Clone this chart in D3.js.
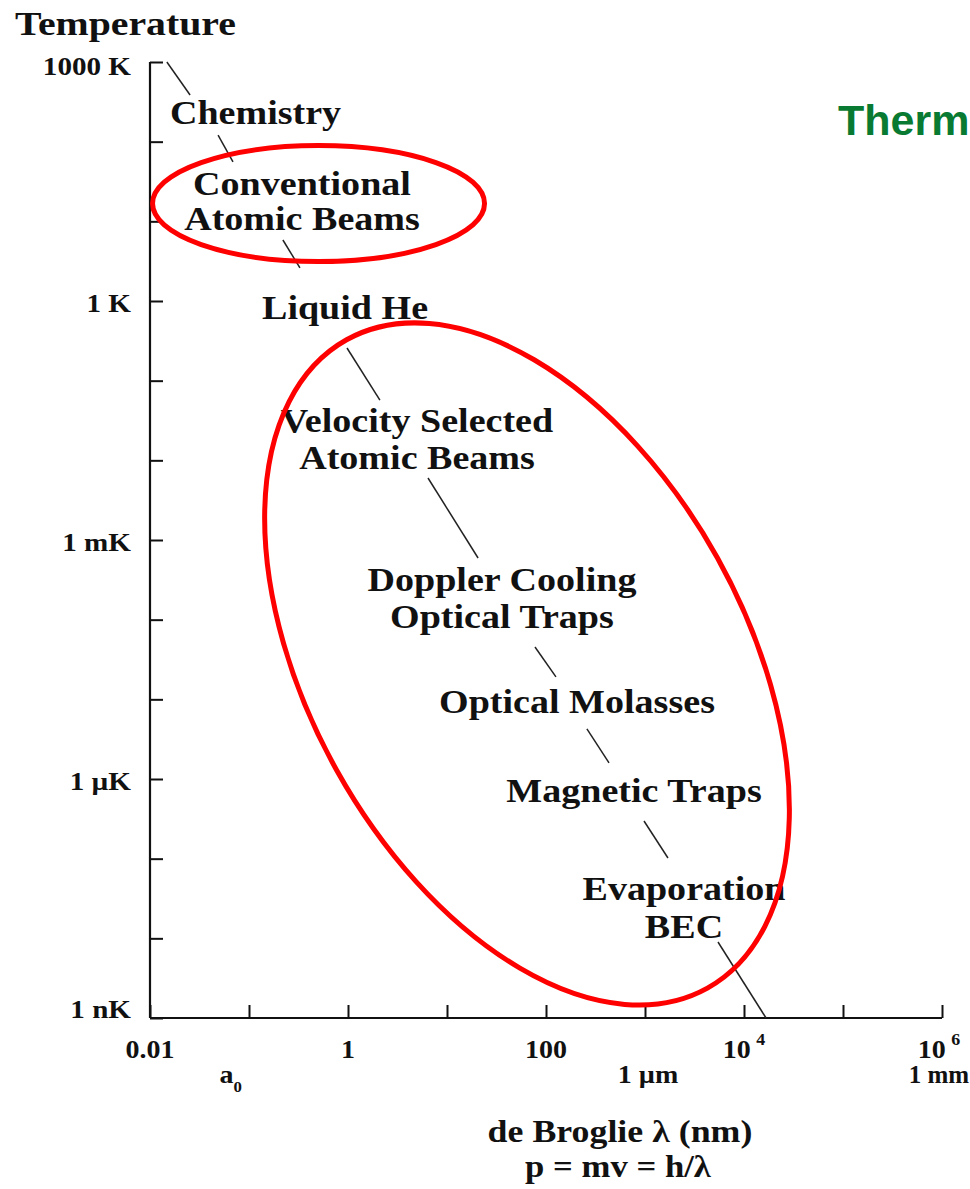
<!DOCTYPE html>
<html><head><meta charset="utf-8">
<script src="https://cdn.jsdelivr.net/npm/d3@7"></script>
<style>body{margin:0;background:#fff}svg{display:block}</style>
</head><body><svg id="c" width="970" height="1189"></svg>
<script>
// ---------- data ----------
const xTickValues = [0.01, 0.1, 1, 10, 100, 1000, 1e4, 1e5, 1e6];
const xLabelValues = [0.01, 1, 100, 1e4, 1e6];
const xLabelBase = ["0.01", "1", "100", "10", "10"];
const xLabelSup = ["", "", "", "4", "6"];
const xMarkValues = [0.0529, 1000, 1e6];
const xMarkText = ["a", "1 \u00b5m", "1 mm"];
const xMarkSub = ["0", "", ""];

const yTickValues = [1e3, 1e2, 1e1, 1, 1e-1, 1e-2, 1e-3, 1e-4, 1e-5, 1e-6, 1e-7, 1e-8, 1e-9];
const yLabelValues = [1000, 1, 1e-3, 1e-6, 1e-9];
const yLabelText = ["1000 K", "1 K", "1 mK", "1 \u00b5K", "1 nK"];

// visible pieces of the lambda(T) line (de Broglie lambda in nm, T in K)
const segStartLambda = [0.0148, 0.0487, 0.220, 0.977, 6.43, 77.4, 259, 977, 5460];
const segStartT      = [1000, 121, 5.83, 0.257, 6.0e-3, 4.54e-5, 4.25e-6, 2.97e-7, 9.0e-9];
const segEndLambda   = [0.0254, 0.0689, 0.327, 2.10, 20.6, 126, 433, 1706, 16700];
const segEndT        = [385, 55.6, 2.60, 0.0571, 5.94e-4, 1.91e-5, 1.59e-6, 1.02e-7, 1e-9];

// regime labels, anchored (centre of first line) in data space
const labelLines = [
  ["Chemistry"],
  ["Conventional", "Atomic Beams"],
  ["Liquid He"],
  ["Velocity Selected", "Atomic Beams"],
  ["Doppler Cooling", "Optical Traps"],
  ["Optical Molasses"],
  ["Magnetic Traps"],
  ["Evaporation", "BEC"]
];
const labelLambda = [0.1164, 0.343, 0.933, 4.98, 35.9, 205.6, 774, 2477];
const labelT      = [166.7, 21.4, 0.594, 0.0227, 2.29e-4, 6.74e-6, 5.15e-7, 3.03e-8];

// highlight ellipses (centres in data space)
const ellipseLambda = [0.504, 64.3];
const ellipseT = [16.7, 2.78e-5];

// ---------- layout / style ----------
const W = 970, H = 1189;
const mLeft = 150, mRight = 942, mTop = 62, mBottom = 1018;
const serif = "'Liberation Serif','Times New Roman',serif";
const STRETCH = 1.12;
const ellipseRx = [166, 371];
const ellipseRy = [58, 218];
const ellipseRot = [0, 60.9];

const svg = d3.select("#c");
const x = d3.scaleLog().domain([0.01, 1e6]).range([mLeft, mRight]);
const y = d3.scaleLog().domain([1e-9, 1000]).range([mBottom, mTop]);

function stretchedText(g, px, py, size, anchor, sx) {
  return g.append("text")
    .attr("transform", `translate(${px},${py}) scale(${sx || STRETCH},1)`)
    .attr("text-anchor", anchor)
    .attr("font-family", serif)
    .attr("font-weight", "bold")
    .attr("font-size", size)
    .attr("fill", "#111");
}

// axes
const yAxis = d3.axisRight(y).tickValues(yTickValues).tickSize(13).tickFormat("");
const gy = svg.append("g").attr("transform", `translate(${mLeft},0)`).call(yAxis);
const xAxis = d3.axisTop(x).tickValues(xTickValues).tickSize(13).tickFormat("");
const gx = svg.append("g").attr("transform", `translate(0,${mBottom})`).call(xAxis);
[gx, gy].forEach(g => {
  g.select(".domain").attr("stroke", "#111").attr("stroke-width", 2.2);
  g.selectAll(".tick line").attr("stroke", "#111").attr("stroke-width", 2);
});
gx.select(".domain").attr("d", `M${mLeft},0H${mRight}`);
gy.select(".domain").attr("d", `M0,${mBottom}V${mTop}`);

// y tick labels
const yLabelDy = [13, 11, 11, 11, 0];
yLabelValues.forEach((v, i) => {
  stretchedText(svg, 131, y(v) + yLabelDy[i], 26, "end").text(yLabelText[i]);
});

// x tick labels
const xLabelDx = [0, 0, 0, 0, -3];
xLabelValues.forEach((v, i) => {
  const t = stretchedText(svg, x(v) + xLabelDx[i], mBottom + 40, 25, "middle");
  t.append("tspan").text(xLabelBase[i]);
  if (xLabelSup[i]) t.append("tspan").attr("dx", 5).attr("dy", -13).attr("font-size", 16).text(xLabelSup[i]);
});
const xMarkDx = [9, 3, -3];
xMarkValues.forEach((v, i) => {
  const t = stretchedText(svg, x(v) + xMarkDx[i], mBottom + 65, 25, "middle", i === 2 ? 1.0 : STRETCH);
  t.append("tspan").text(xMarkText[i]);
  if (xMarkSub[i]) t.append("tspan").attr("dy", 9).attr("font-size", 15).text(xMarkSub[i]);
});

// titles
stretchedText(svg, 15, 35, 34, "start", 1.17).text("Temperature");
stretchedText(svg, 620, 1142, 32, "middle").text("de Broglie \u03bb (nm)");
stretchedText(svg, 618, 1177, 31, "middle").text("p = mv = h/\u03bb");

// line segments
svg.append("g").selectAll("line").data(segStartLambda).join("line")
  .attr("x1", (d, i) => x(segStartLambda[i]))
  .attr("y1", (d, i) => y(segStartT[i]))
  .attr("x2", (d, i) => x(segEndLambda[i]))
  .attr("y2", (d, i) => y(segEndT[i]))
  .attr("stroke", "#222").attr("stroke-width", 1.5);

// regime labels
const lineGap = [0, 35, 0, 37, 37, 0, 0, 38];
labelLines.forEach((lines, i) => {
  lines.forEach((s, k) => {
    stretchedText(svg, x(labelLambda[i]), y(labelT[i]) + k * lineGap[i], 34, "middle").text(s);
  });
});

// ellipses
ellipseLambda.forEach((v, i) => {
  svg.append("ellipse")
    .attr("transform", `translate(${x(v)},${y(ellipseT[i])}) rotate(${ellipseRot[i]})`)
    .attr("rx", ellipseRx[i]).attr("ry", ellipseRy[i])
    .attr("fill", "none").attr("stroke", "#ff0000").attr("stroke-width", 5);
});

// green heading (clipped at the page edge)
svg.append("text").attr("x", 838).attr("y", 135)
  .attr("font-family", "'Liberation Sans',Arial,sans-serif").attr("font-weight", "bold")
  .attr("font-size", 43).attr("fill", "#087a32").text("Therm");
</script></body></html>
